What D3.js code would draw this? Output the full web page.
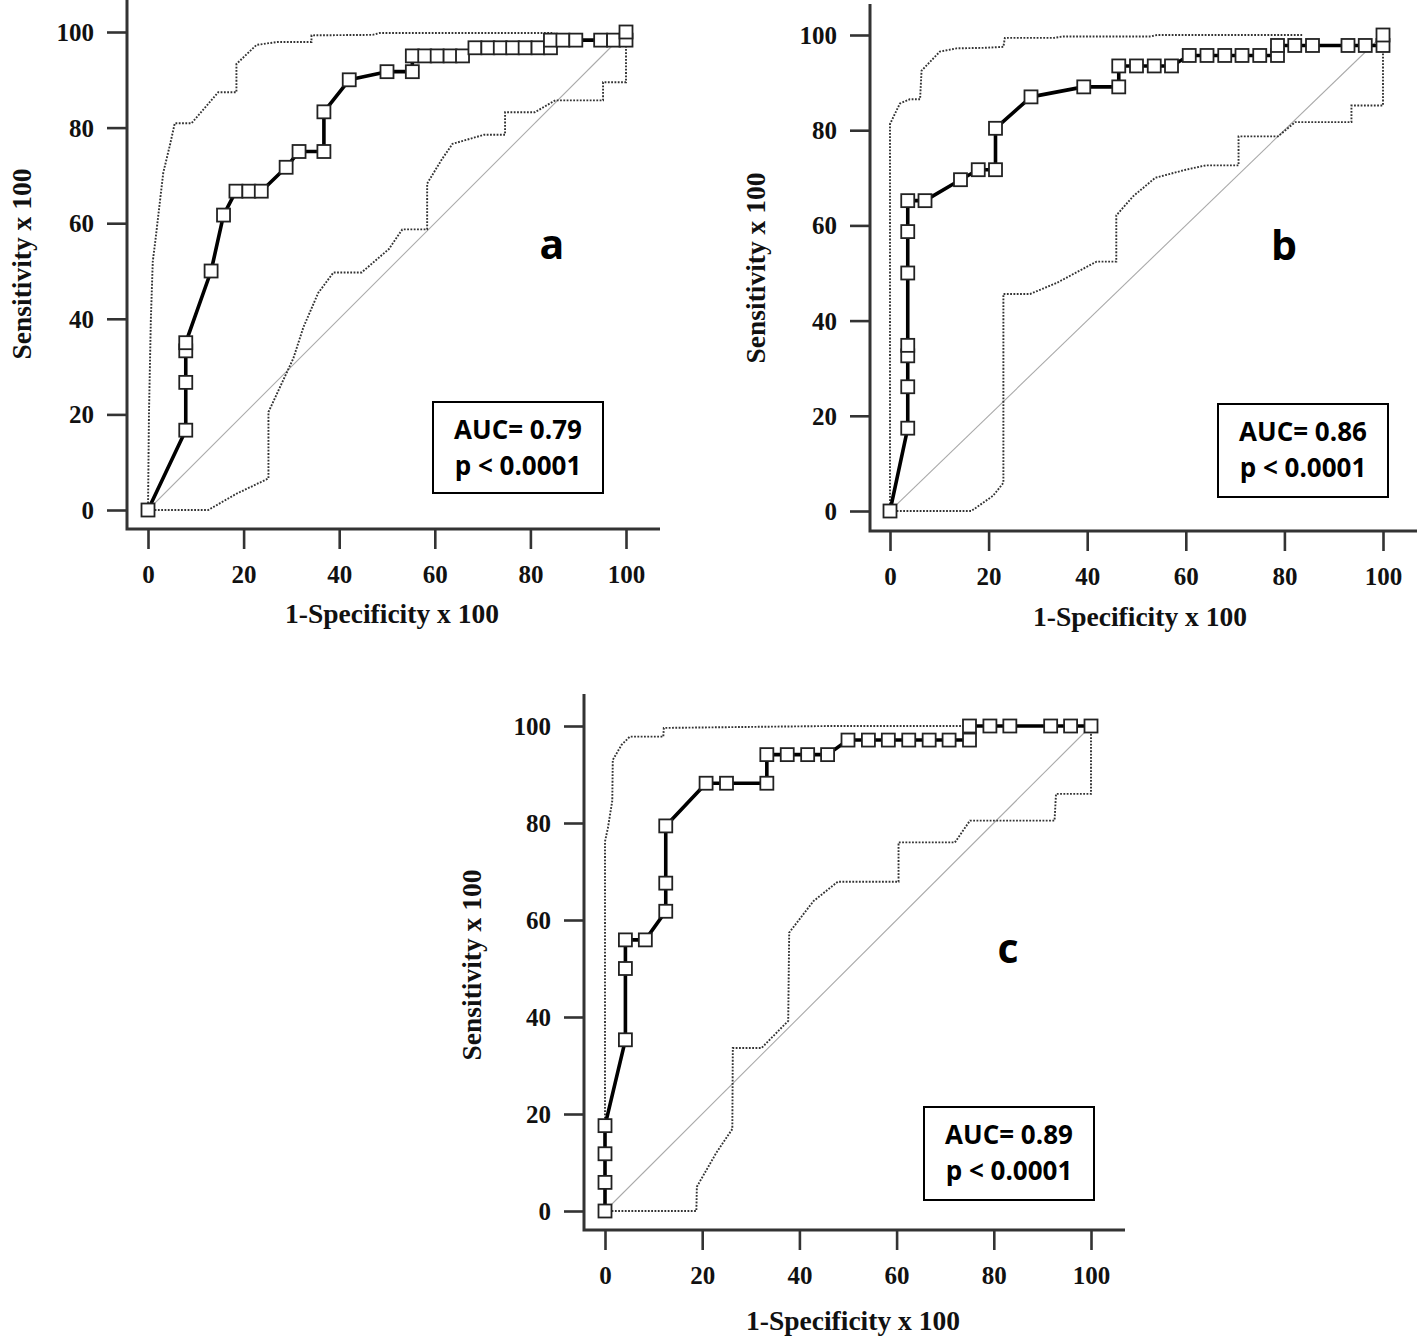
<!DOCTYPE html>
<html><head><meta charset="utf-8">
<script src="https://cdn.jsdelivr.net/npm/d3@7"></script>
<style>body{margin:0;background:#fff}</style>
</head><body>
<svg id="chart" width="1417" height="1338"></svg>
<script>
// ---------- data ----------
const tickValues = [0, 20, 40, 60, 80, 100];
const xTitle = "1-Specificity x 100";
const yTitle = "Sensitivity x 100";
const panelLetters = ["a", "b", "c"];
const aucLabels = ["AUC= 0.79", "AUC= 0.86", "AUC= 0.89"];
const pLabels = ["p < 0.0001", "p < 0.0001", "p < 0.0001"];

// Panel a
const aRocX = [0,7.9,7.9,7.9,7.9,13.2,15.8,18.4,21.1,23.7,28.9,31.6,36.8,36.8,42.1,50.0,55.3,55.3,57.9,60.5,63.2,65.8,68.4,71.1,73.7,76.3,78.9,81.6,84.2,84.2,86.8,89.5,94.7,97.4,100,100];
const aRocY = [0,16.7,26.7,33.3,35,50,61.7,66.7,66.7,66.7,71.7,75,75,83.3,90,91.7,91.7,95,95,95,95,95,96.7,96.7,96.7,96.7,96.7,96.7,96.7,98.3,98.3,98.3,98.3,98.3,98.3,100];
const aUpX = [0,0.2,0.6,1.0,1.5,3.2,4.6,5.6,9.1,14.7,18.5,18.5,22.7,27,34.2,34.2,47,48.5,85];
const aUpY = [0,20,40,52,56,70.6,76.4,80.9,80.9,87.4,87.4,93.3,97.3,97.9,97.9,99.3,99.4,99.8,99.8];
const aLoX = [0,12.6,18.5,25.2,25.2,30.4,32.5,35.6,38.8,44.7,50.4,53.2,58.4,58.4,61.5,63.7,70.3,74.7,74.7,80.9,85.2,95.2,95.2,100,100];
const aLoY = [0,0,3.4,6.6,20.5,31.7,38.2,45.4,49.7,49.7,54.6,58.7,58.7,68.3,73.4,76.6,78.5,78.5,83.2,83.2,85.7,85.7,89.5,89.5,98];

// Panel b
const bRocX = [0,3.6,3.6,3.6,3.6,3.6,3.6,3.6,7.1,14.3,17.9,21.4,21.4,28.6,39.3,46.4,46.4,50,53.6,57.1,60.7,64.3,67.9,71.4,75,78.6,78.6,82.1,85.7,92.9,96.4,100,100];
const bRocY = [0,17.4,26.1,32.6,34.8,50,58.7,65.2,65.2,69.6,71.7,71.7,80.4,87,89.1,89.1,93.5,93.5,93.5,93.5,95.7,95.7,95.7,95.7,95.7,95.7,97.8,97.8,97.8,97.8,97.8,97.8,100];
const bUpX = [0,0,2.0,4.0,6.1,6.4,10.1,13.5,19.1,23.0,23.3,33.3,35.1,52.9,54.2,83.6];
const bUpY = [0,81.3,85.6,86.5,86.5,92.5,96.5,97.2,97.3,97.5,99.4,99.4,99.7,99.7,100,100];
const bLoX = [0,16.5,20.9,23.0,23.0,28.4,33.8,41.9,45.9,45.9,49.3,53.8,60.0,64.0,70.7,70.7,78.7,82.2,93.6,93.6,100,100];
const bLoY = [0,0,3.2,5.9,45.6,45.6,47.9,52.4,52.4,62.1,66.1,70.0,71.7,72.6,72.6,78.7,78.7,81.7,81.7,85.2,85.2,97.8];

// Panel c
const cRocX = [0,0,0,0,4.2,4.2,4.2,8.3,12.5,12.5,12.5,20.8,25,33.3,33.3,37.5,41.7,45.8,50,54.2,58.3,62.5,66.7,70.8,75,75,79.2,83.3,91.7,95.8,100];
const cRocY = [0,5.9,11.8,17.6,35.3,50,55.9,55.9,61.8,67.6,79.4,88.2,88.2,88.2,94.1,94.1,94.1,94.1,97.1,97.1,97.1,97.1,97.1,97.1,97.1,100,100,100,100,100,100];
const cUpX = [0,0,0.6,1.5,1.6,3.4,5.1,12.0,12.1,28.6,46.5,74.6];
const cUpY = [0,76.2,79.0,84.6,93.0,96.1,97.8,97.8,99.6,99.8,100,100];
const cLoX = [0,18.8,18.9,22.9,26.2,26.3,32.2,37.7,37.9,42.9,47.9,60.4,60.4,72.0,75.1,92.5,92.8,100,100];
const cLoY = [0,0,5.0,12.0,16.9,33.6,33.6,39.2,57.4,63.9,67.9,67.9,76.0,76.0,80.5,80.5,86.0,86.0,99];

// ---------- layout ----------
const layouts = [
  {left:127, bottom:529, px:[148,626], py:[510,32], top:0, right:660,
   box:[433,402,170,91], letter:[552,259], xt:[392,623], yt:[31,264],
   roc:[aRocX,aRocY], up:[aUpX,aUpY], lo:[aLoX,aLoY]},
  {left:870, bottom:531, px:[890,1383], py:[511,35], top:4, right:1417,
   box:[1218,404,170,93], letter:[1284,260], xt:[1140,626], yt:[765,268],
   roc:[bRocX,bRocY], up:[bUpX,bUpY], lo:[bLoX,bLoY]},
  {left:584, bottom:1230, px:[605,1091], py:[1211,726], top:694, right:1125,
   box:[924,1107,170,93], letter:[1008,963], xt:[853,1330], yt:[481,965],
   roc:[cRocX,cRocY], up:[cUpX,cUpY], lo:[cLoX,cLoY]}
];

const svg = d3.select("#chart");
const serif = "'Liberation Serif','Times New Roman',serif";
const sans = "'Open Sans','Liberation Sans',sans-serif";

layouts.forEach((L, i) => {
  const x = d3.scaleLinear().domain([0,100]).range(L.px);
  const y = d3.scaleLinear().domain([0,100]).range(L.py);
  const g = svg.append("g");

  // axes
  const xAxis = d3.axisBottom(x).tickValues(tickValues).tickSize(20).tickPadding(10).tickSizeOuter(0);
  const yAxis = d3.axisLeft(y).tickValues(tickValues).tickSize(20).tickPadding(13).tickSizeOuter(0);

  const gx = g.append("g").attr("transform", `translate(0,${L.bottom})`).call(xAxis);
  const gy = g.append("g").attr("transform", `translate(${L.left},0)`).call(yAxis);
  [gx, gy].forEach(a => {
    a.select(".domain").remove();
    a.selectAll(".tick line").attr("stroke", "#333").attr("stroke-width", 2.6);
    a.selectAll(".tick text").attr("fill", "#111")
      .style("font-family", serif).style("font-weight", "bold").style("font-size", "25px");
  });
  gx.selectAll(".tick text").attr("dy", null).attr("y", 54);
  gy.selectAll(".tick text").attr("dy", "0.34em");

  // axis lines
  g.append("path")
    .attr("d", `M${L.left},${L.top}V${L.bottom}H${L.right}`)
    .attr("fill", "none").attr("stroke", "#333").attr("stroke-width", 3);

  // diagonal reference
  g.append("line")
    .attr("x1", x(0)).attr("y1", y(0)).attr("x2", x(100)).attr("y2", y(100))
    .attr("stroke", "#aaa").attr("stroke-width", 1.1);

  const line = d3.line().x(d => x(d[0])).y(d => y(d[1]));
  const zip = (X, Y) => X.map((v, k) => [v, Y[k]]);

  // confidence bounds (dotted)
  [L.up, L.lo].forEach(s => {
    g.append("path").datum(zip(s[0], s[1])).attr("d", line)
      .attr("fill", "none").attr("stroke", "#333").attr("stroke-width", 1.9)
      .attr("stroke-dasharray", "1.8 1.5");
  });

  // ROC curve
  const pts = zip(L.roc[0], L.roc[1]);
  g.append("path").datum(pts).attr("d", line)
    .attr("fill", "none").attr("stroke", "#000").attr("stroke-width", 3.6)
    .attr("stroke-linejoin", "round");

  const sz = 13;
  g.selectAll("rect.pt").data(pts).join("rect").attr("class", "pt")
    .attr("x", d => x(d[0]) - sz/2).attr("y", d => y(d[1]) - sz/2)
    .attr("width", sz).attr("height", sz)
    .attr("fill", "#fff").attr("stroke", "#222").attr("stroke-width", 1.8);

  // titles
  g.append("text").attr("x", L.xt[0]).attr("y", L.xt[1]).attr("text-anchor", "middle")
    .style("font-family", serif).style("font-weight", "bold").style("font-size", "27.5px")
    .attr("fill", "#111").text(xTitle);
  g.append("text").attr("transform", `translate(${L.yt[0]},${L.yt[1]}) rotate(-90)`)
    .attr("text-anchor", "middle")
    .style("font-family", serif).style("font-weight", "bold").style("font-size", "27.5px")
    .attr("fill", "#111").text(yTitle);

  // panel letter
  g.append("text").attr("x", L.letter[0]).attr("y", L.letter[1]).attr("text-anchor", "middle")
    .style("font-family", sans).style("font-weight", "bold").style("font-size", "41px")
    .attr("fill", "#000").text(panelLetters[i]);

  // AUC box
  const [bx, by, bw, bh] = L.box;
  g.append("rect").attr("x", bx).attr("y", by).attr("width", bw).attr("height", bh)
    .attr("fill", "#fff").attr("stroke", "#000").attr("stroke-width", 2);
  g.append("text").attr("x", bx + bw/2).attr("y", by + 37).attr("text-anchor", "middle")
    .style("font-family", sans).style("font-weight", "bold").style("font-size", "26px")
    .attr("fill", "#000").text(aucLabels[i]);
  g.append("text").attr("x", bx + bw/2).attr("y", by + 73).attr("text-anchor", "middle")
    .style("font-family", sans).style("font-weight", "bold").style("font-size", "26px")
    .attr("fill", "#000").text(pLabels[i]);
});
</script>
</body></html>
